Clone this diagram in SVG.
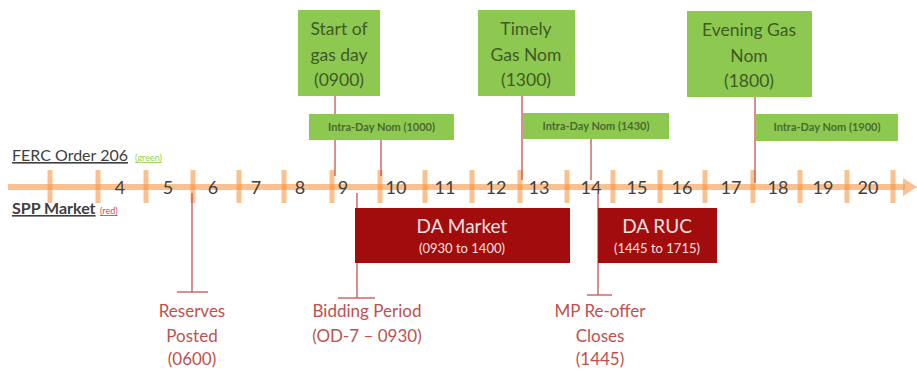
<svg xmlns="http://www.w3.org/2000/svg" width="917" height="371" viewBox="0 0 917 371">
<style>
  .axis{stroke:#F79646;stroke-opacity:0.6;fill:none}
  .tick{stroke:#F79646;stroke-opacity:0.6;stroke-width:5}
  .num{font-family:Lato,"Liberation Sans",sans-serif;font-size:18px;fill:#404040;text-anchor:middle}
  .conn{stroke:#C0504D;stroke-width:1.5;stroke-opacity:0.85;fill:none}
  .gbox{fill:#8DC951}
  .gtxt{font-family:Lato,"Liberation Sans",sans-serif;font-size:17.5px;fill:#3F5A25;text-anchor:middle}
  .gsm{font-family:Lato,"Liberation Sans",sans-serif;font-size:11px;font-weight:bold;fill:#4A6A2C;text-anchor:middle}
  .rbox{fill:#A20C0C}
  .rtxt{font-family:Lato,"Liberation Sans",sans-serif;font-size:19px;fill:#F5E1E1;text-anchor:middle}
  .rsm{font-family:Lato,"Liberation Sans",sans-serif;font-size:13px;fill:#F5E1E1;text-anchor:middle}
  .lbl{font-family:Lato,"Liberation Sans",sans-serif;font-size:17px;fill:#C0504D;text-anchor:middle}
  .leg{font-family:Lato,"Liberation Sans",sans-serif;font-size:16px;fill:#404040}
</style>
<rect width="917" height="371" fill="#FFFFFF"/>

<g id="axis">
  <line class="axis" x1="8" y1="187" x2="905" y2="187" stroke-width="6"/>
  <polygon points="903,178 917,187 903,196" fill="#F79646" fill-opacity="0.6"/>
  <g>
    <line class="tick" x1="50" y1="170" x2="50" y2="203"/>
    <line class="tick" x1="98" y1="170" x2="98" y2="203"/>
    <line class="tick" x1="146" y1="170" x2="146" y2="203"/>
    <line class="tick" x1="193" y1="170" x2="193" y2="203"/>
    <line class="tick" x1="239" y1="170" x2="239" y2="203"/>
    <line class="tick" x1="284" y1="170" x2="284" y2="203"/>
    <line class="tick" x1="332" y1="170" x2="332" y2="203"/>
    <line class="tick" x1="380" y1="170" x2="380" y2="203"/>
    <line class="tick" x1="425" y1="170" x2="425" y2="203"/>
    <line class="tick" x1="472" y1="170" x2="472" y2="203"/>
    <line class="tick" x1="520" y1="170" x2="520" y2="203"/>
    <line class="tick" x1="567" y1="170" x2="567" y2="203"/>
    <line class="tick" x1="613" y1="170" x2="613" y2="203"/>
    <line class="tick" x1="660" y1="170" x2="660" y2="203"/>
    <line class="tick" x1="705" y1="170" x2="705" y2="203"/>
    <line class="tick" x1="753" y1="170" x2="753" y2="203"/>
    <line class="tick" x1="800" y1="170" x2="800" y2="203"/>
    <line class="tick" x1="847" y1="170" x2="847" y2="203"/>
    <line class="tick" x1="893" y1="170" x2="893" y2="203"/>
  </g>
  <g>
    <text class="num" x="120" y="194">4</text>
    <text class="num" x="168" y="194">5</text>
    <text class="num" x="213" y="194">6</text>
    <text class="num" x="256" y="194">7</text>
    <text class="num" x="300" y="194">8</text>
    <text class="num" x="343" y="194">9</text>
    <text class="num" x="396" y="194">10</text>
    <text class="num" x="445" y="194">11</text>
    <text class="num" x="496" y="194">12</text>
    <text class="num" x="539" y="194">13</text>
    <text class="num" x="591" y="194">14</text>
    <text class="num" x="637" y="194">15</text>
    <text class="num" x="682" y="194">16</text>
    <text class="num" x="731" y="194">17</text>
    <text class="num" x="778" y="194">18</text>
    <text class="num" x="823" y="194">19</text>
    <text class="num" x="868" y="194">20</text>
  </g>
</g>

<g id="legend">
  <text class="leg" x="12" y="161" text-decoration="underline">FERC Order 206</text>
  <text x="135" y="161" font-family="Lato,'Liberation Sans',sans-serif" font-size="9" fill="#92D050" text-decoration="underline">(green)</text>
  <text class="leg" x="12" y="214" font-weight="bold" text-decoration="underline">SPP Market</text>
  <text x="100" y="214" font-family="Lato,'Liberation Sans',sans-serif" font-size="9" fill="#C0504D" text-decoration="underline">(red)</text>
</g>

<g id="connectors">
  <line class="conn" x1="335" y1="96" x2="335" y2="176"/>
  <line class="conn" x1="381" y1="139" x2="381" y2="176"/>
  <line class="conn" x1="522" y1="96" x2="522" y2="180"/>
  <line class="conn" x1="591" y1="139" x2="591" y2="180"/>
  <line class="conn" x1="755" y1="97" x2="755" y2="183"/>
  <line class="conn" x1="192" y1="193" x2="192" y2="292"/>
  <line class="conn" x1="177" y1="292" x2="208" y2="292"/>
  <line class="conn" x1="357" y1="193" x2="357" y2="298"/>
  <line class="conn" x1="338" y1="298" x2="375" y2="298"/>
  <line class="conn" x1="598" y1="193" x2="598" y2="295"/>
  <line class="conn" x1="587" y1="295" x2="612" y2="295"/>
</g>

<g id="start-gas-day">
  <rect class="gbox" x="298" y="10" width="82" height="86"/>
  <text class="gtxt" x="339" y="35">Start of</text>
  <text class="gtxt" x="339" y="61">gas day</text>
  <text class="gtxt" x="339" y="86">(0900)</text>
</g>
<g id="timely-gas-nom">
  <rect class="gbox" x="478" y="10" width="97" height="86"/>
  <text class="gtxt" x="526" y="35">Timely</text>
  <text class="gtxt" x="526" y="61">Gas Nom</text>
  <text class="gtxt" x="526" y="86">(1300)</text>
</g>
<g id="evening-gas-nom">
  <rect class="gbox" x="687" y="11" width="125" height="86"/>
  <text class="gtxt" x="749" y="36">Evening Gas</text>
  <text class="gtxt" x="749" y="62">Nom</text>
  <text class="gtxt" x="749" y="87">(1800)</text>
</g>
<g id="intraday-1000">
  <rect class="gbox" x="309" y="114" width="145" height="26"/>
  <text class="gsm" x="381.5" y="131">Intra-Day Nom (1000)</text>
</g>
<g id="intraday-1430">
  <rect class="gbox" x="523" y="113" width="146" height="26"/>
  <text class="gsm" x="596" y="130">Intra-Day Nom (1430)</text>
</g>
<g id="intraday-1900">
  <rect class="gbox" x="756" y="114" width="142" height="27"/>
  <text class="gsm" x="827" y="131">Intra-Day Nom (1900)</text>
</g>

<g id="da-market">
  <rect class="rbox" x="355" y="208" width="215" height="55"/>
  <text class="rtxt" x="462" y="233">DA Market</text>
  <text class="rsm" x="462" y="253">(0930 to 1400)</text>
</g>
<g id="da-ruc">
  <rect class="rbox" x="598" y="208" width="119" height="55"/>
  <text class="rtxt" x="657" y="233">DA RUC</text>
  <text class="rsm" x="657" y="253">(1445 to 1715)</text>
</g>

<g id="reserves-posted">
  <text class="lbl" x="192" y="317">Reserves</text>
  <text class="lbl" x="192" y="342">Posted</text>
  <text class="lbl" x="192" y="365">(0600)</text>
</g>
<g id="bidding-period">
  <text class="lbl" x="367" y="317">Bidding Period</text>
  <text class="lbl" x="367" y="342">(OD-7 – 0930)</text>
</g>
<g id="mp-reoffer">
  <text class="lbl" x="600" y="317">MP Re-offer</text>
  <text class="lbl" x="600" y="342">Closes</text>
  <text class="lbl" x="600" y="365">(1445)</text>
</g>
</svg>
